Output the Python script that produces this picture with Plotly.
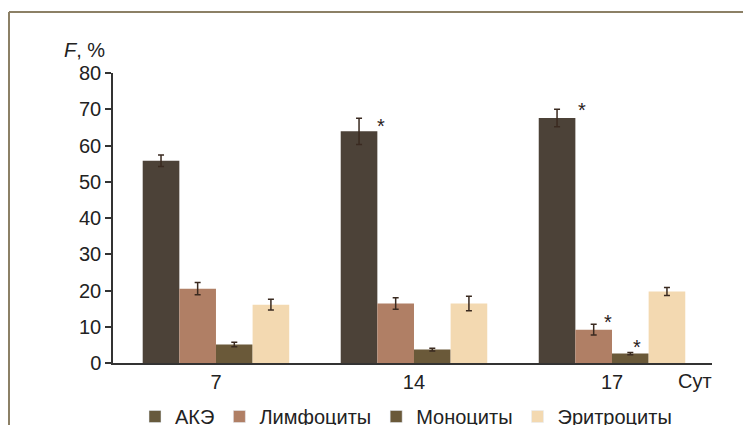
import plotly.graph_objects as go

days = ["7", "14", "17"]
series = ["АКЭ", "Лимфоциты", "Моноциты", "Эритроциты"]
ake = [55.8, 63.9, 67.6]
ake_err = [1.6, 3.6, 2.4]
lymph = [20.5, 16.4, 9.2]
lymph_err = [1.7, 1.6, 1.5]
mono = [5.1, 3.7, 2.6]
mono_err = [0.6, 0.4, 0.3]
ery = [16.1, 16.4, 19.7]
ery_err = [1.5, 2.0, 1.1]
# significance marks (series index, day index)
stars = [(0, 1), (0, 2), (1, 2), (2, 2)]

colors = ["#4c4238", "#b07f65", "#6a5939", "#f3d9b1"]
legend_colors = ["#675a3d", "#b07f65", "#6a5939", "#f3d9b1"]
values = [ake, lymph, mono, ery]
errors = [ake_err, lymph_err, mono_err, ery_err]

FONT = "Liberation Sans, Arial, sans-serif"
FS = 20
xs = list(range(len(days)))

fig = go.Figure()
for name, v, e, c in zip(series, values, errors, colors):
    fig.add_trace(go.Bar(
        x=xs, y=v, name=name, marker=dict(color=c, line=dict(width=0)),
        error_y=dict(type="data", array=e, color="#3a2a20", thickness=1.5, width=3),
        showlegend=False,
    ))
# legend entries on a hidden axis
for name, c in zip(series, legend_colors):
    fig.add_trace(go.Bar(x=[None], y=[None], name=name, marker=dict(color=c),
                         xaxis="x2", yaxis="y2", showlegend=True))

gap = 0.26
bw = (1 - gap) / len(series)
shifts = [(4, -8), (7, -1), (-4, 2), (-12, 5)]
for (si, di), (dx, dy) in zip(stars, shifts):
    xc = di - (1 - gap) / 2 + bw * (si + 0.5)
    fig.add_annotation(x=xc + bw / 2, y=values[si][di] + errors[si][di],
                       text="*", showarrow=False, xshift=dx, yshift=dy,
                       xanchor="center", yanchor="middle",
                       font=dict(size=20, color="#2a211b", family=FONT))

O = 8  # page body margin
W, H = 751 - O, 425 - O
L, T = 113 - O, 73 - O
R = W - (712 - O)
B = H - (363 - O)
pw, ph = W - L - R, H - T - B

def px(x):  # image pixel -> paper
    return (x - O - L) / pw

def py(y):
    return (H - B - (y - O)) / ph

fig.update_layout(
    width=W, height=H, margin=dict(l=L, r=R, t=T, b=B, autoexpand=False),
    paper_bgcolor="white", plot_bgcolor="white",
    barmode="group", bargap=gap, bargroupgap=0,
    font=dict(family=FONT, size=FS, color="#222"),
    xaxis=dict(range=[-0.52, 2.505], tickvals=xs, ticktext=days, showgrid=False,
               zeroline=False, showline=True, linecolor="#333", linewidth=1.5,
               ticks="", tickfont=dict(size=FS, color="#222"), automargin=False),
    yaxis=dict(range=[0, 80], dtick=10, showgrid=False, zeroline=False,
               showline=True, linecolor="#333", linewidth=1.5, ticks="outside",
               ticklen=6, tickcolor="#333", tickwidth=1.5,
               tickfont=dict(size=FS, color="#222"), automargin=False),
    xaxis2=dict(overlaying="x", visible=False, range=[0, 1]),
    yaxis2=dict(overlaying="y", visible=False, range=[0, 1]),
    legend=dict(orientation="h", x=px(135), xanchor="left", y=py(397), yanchor="top",
                font=dict(size=FS, color="#222"), bgcolor="rgba(0,0,0,0)",
                itemwidth=30, tracegroupgap=0),
    showlegend=True,
)

fig.add_annotation(x=px(695), y=py(381), xref="paper", yref="paper", text="Сут",
                   xanchor="center", yanchor="middle",
                   showarrow=False, font=dict(size=FS, color="#222"))
fig.add_annotation(x=px(84), y=py(50), xref="paper", yref="paper", text="<i>F</i>, %",
                   xanchor="center", yanchor="middle",
                   showarrow=False, font=dict(size=FS, color="#222"))

frame = "#8c8066"
fig.add_shape(type="line", xref="paper", yref="paper", x0=px(9), x1=px(9),
              y0=py(12), y1=py(440), line=dict(color=frame, width=2))
fig.add_shape(type="line", xref="paper", yref="paper", x0=px(9), x1=px(770),
              y0=py(12), y1=py(12), line=dict(color=frame, width=2))

fig.write_html("out.html")
